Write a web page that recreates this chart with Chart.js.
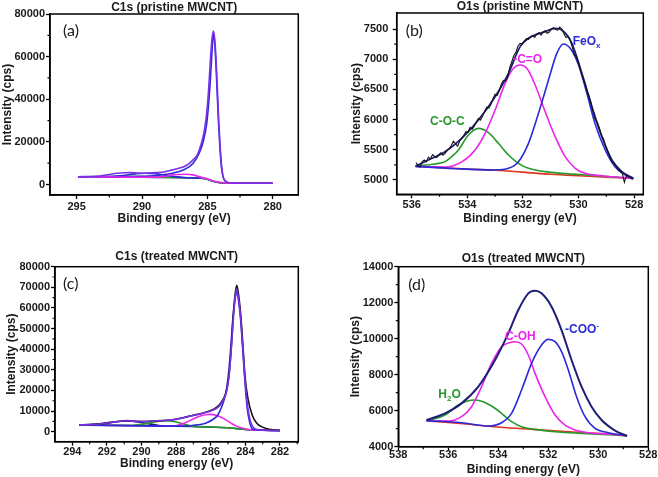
<!DOCTYPE html>
<html>
<head>
<meta charset="utf-8">
<script src="https://cdn.jsdelivr.net/npm/chart.js@4.4.1/dist/chart.umd.min.js"></script>
<style>
  html, body { margin: 0; padding: 0; background: #fff; }
  #wrap { position: relative; width: 658px; height: 477px; }
  canvas { position: absolute; }
</style>
</head>
<body>
<div id="wrap">
  <canvas id="pa" width="329" height="230" style="left:0;top:0"></canvas>
  <canvas id="pb" width="329" height="230" style="left:329px;top:0"></canvas>
  <canvas id="pc" width="329" height="247" style="left:0;top:230px"></canvas>
  <canvas id="pd" width="329" height="247" style="left:329px;top:230px"></canvas>
</div>
<script>
// ---- (a) C1s pristine ----
const aXTicks = [295, 290, 285, 280];
const aXMinor = [292.5, 287.5, 282.5];
const aYTicks = [0, 20000, 40000, 60000, 80000];
const aYMinor = [10000, 30000, 50000, 70000];

const aBgE = [294.9, 294, 293, 292, 291, 290, 289, 288, 287, 286, 285.5, 285.1, 284.8, 284.5, 284.2, 283.9, 283.6, 283, 282, 281, 280];
const aBgI = [3650, 3600, 3540, 3480, 3420, 3370, 3320, 3270, 3200, 3080, 2950, 2600, 2050, 1450, 980, 700, 600, 570, 560, 555, 550];
const aEnvE = [294.9, 294, 293.2, 292.5, 291.9, 291.4, 290.9, 290.4, 289.9, 289.4, 288.9, 288.3, 287.9, 287.3, 286.8, 286.4, 286.1, 285.8, 285.6, 285.4, 285.2, 285.05, 284.92, 284.8, 284.68, 284.55, 284.43, 284.32, 284.22, 284.12, 284.02, 283.92, 283.8, 283.6, 283.3, 283, 282, 281, 280];
const aEnvI = [3650, 3750, 3990, 4700, 5240, 5500, 5550, 5400, 5250, 5400, 5550, 5900, 6490, 7400, 8370, 9800, 11500, 13500, 16500, 20500, 26500, 33500, 43000, 55000, 66000, 72000, 68000, 57000, 43000, 29000, 18000, 9500, 3800, 1500, 800, 620, 560, 555, 550];
const aMainE = [294.9, 293, 291, 289.9, 288.9, 287.9, 286.8, 286.1, 285.6, 285.3, 285.05, 284.9, 284.75, 284.63, 284.55, 284.45, 284.34, 284.24, 284.14, 284.04, 283.94, 283.8, 283.6, 283.3, 283, 282, 280];
const aMainI = [3650, 3600, 3650, 3850, 4200, 5000, 6900, 9800, 15000, 20500, 28500, 38000, 51000, 64000, 70500, 67000, 56000, 42000, 28500, 17500, 9200, 3700, 1450, 780, 610, 560, 550];
const aMagE = [294.9, 292, 290, 289, 288.3, 287.9, 287.2, 286.6, 286.1, 285.8, 285.4, 285.05, 284.7, 284.3, 283.9, 283.5, 283, 282, 280];
const aMagI = [3650, 3500, 3400, 3450, 3700, 4300, 4700, 4800, 4500, 4000, 3300, 2750, 1900, 1250, 900, 750, 620, 560, 550];
const aGrnE = [294.9, 293, 292, 291.3, 290.5, 289.5, 288.5, 287.5, 286.5, 285.5, 285, 284.5, 284, 283.5, 282, 280];
const aGrnI = [3650, 3700, 3800, 3900, 3850, 3650, 3450, 3300, 3150, 2900, 2450, 1500, 800, 600, 560, 550];
const aBluE = [294.9, 292.5, 291.5, 290.5, 289.8, 289, 288.3, 287.5, 286.8, 286, 285.5];
const aBluI = [3650, 3700, 4200, 5000, 5300, 5100, 4400, 3700, 3300, 3050, 2950];

// ---- (b) O1s pristine ----
const bXTicks = [536, 534, 532, 530, 528];
const bXMinor = [535, 533, 531, 529];
const bYTicks = [5000, 5500, 6000, 6500, 7000, 7500];
const bYMinor = [5250, 5750, 6250, 6750, 7250];

const bDataE = [535.85, 535.775, 535.70, 535.625, 535.55, 535.475, 535.40, 535.325, 535.25, 535.175, 535.10, 535.025, 534.95, 534.875, 534.80, 534.725, 534.65, 534.575, 534.50, 534.425, 534.35, 534.275, 534.20, 534.125, 534.05, 533.975, 533.90, 533.825, 533.75, 533.675, 533.60, 533.525, 533.45, 533.375, 533.30, 533.225, 533.15, 533.075, 533.00, 532.925, 532.85, 532.775, 532.70, 532.625, 532.55, 532.475, 532.40, 532.325, 532.25, 532.175, 532.10, 532.025, 531.95, 531.875, 531.80, 531.725, 531.65, 531.575, 531.50, 531.425, 531.35, 531.275, 531.20, 531.125, 531.05, 530.975, 530.90, 530.825, 530.75, 530.675, 530.60, 530.525, 530.45, 530.375, 530.30, 530.225, 530.15, 530.075, 530.00, 529.925, 529.85, 529.775, 529.70, 529.625, 529.55, 529.475, 529.40, 529.325, 529.25, 529.175, 529.10, 529.025, 528.95, 528.875, 528.80, 528.725, 528.65, 528.575, 528.50, 528.425, 528.35, 528.275, 528.20, 528.125, 528.05];
const bDataI = [5290, 5240, 5215, 5300, 5330, 5300, 5380, 5350, 5420, 5390, 5370, 5420, 5450, 5410, 5440, 5490, 5520, 5570, 5640, 5600, 5560, 5640, 5700, 5740, 5800, 5790, 5870, 5840, 5890, 5960, 6020, 5990, 6060, 6140, 6210, 6190, 6250, 6350, 6420, 6400, 6480, 6590, 6650, 6640, 6700, 6860, 6960, 7060, 7120, 7220, 7260, 7250, 7300, 7340, 7330, 7370, 7390, 7360, 7420, 7440, 7400, 7450, 7470, 7430, 7450, 7500, 7520, 7490, 7480, 7530, 7500, 7420, 7360, 7380, 7320, 7200, 7080, 7040, 6950, 6810, 6700, 6610, 6480, 6400, 6280, 6120, 6000, 5950, 5860, 5740, 5680, 5560, 5470, 5390, 5300, 5280, 5230, 5170, 5140, 5110, 4960, 5080, 5060, 5030, 5010];
const bEnvE = [535.86, 535.4, 534.8, 534.2, 533.6, 533.0, 532.52, 532.1, 531.8, 531.2, 530.84, 530.6, 530.24, 529.88, 529.52, 529.16, 528.8, 528.44, 528.03];
const bEnvI = [5232, 5331, 5469, 5690, 5993, 6380, 6766, 7208, 7346, 7456, 7511, 7484, 7263, 6766, 6214, 5717, 5331, 5138, 5028];
const bBgE = [535.86, 535.0, 534.0, 533.0, 532.0, 531.0, 530.0, 529.0, 528.03];
const bBgI = [5232, 5205, 5180, 5160, 5130, 5095, 5070, 5048, 5025];
const bGrnE = [535.86, 535.16, 534.8, 534.56, 534.32, 533.96, 533.6, 533.24, 532.88, 532.52, 532.16, 531.8, 531.2, 530.6, 529.4, 528.03];
const bGrnI = [5232, 5265, 5304, 5386, 5497, 5745, 5855, 5784, 5607, 5414, 5276, 5193, 5138, 5110, 5072, 5025];
const bMagE = [535.86, 534.8, 534.2, 533.72, 533.36, 533.0, 532.64, 532.34, 532.1, 531.86, 531.56, 531.2, 530.84, 530.48, 530.12, 529.77, 529.17, 528.03];
const bMagI = [5225, 5215, 5300, 5497, 5773, 6159, 6600, 6849, 6904, 6849, 6573, 6131, 5717, 5386, 5193, 5110, 5070, 5025];
const bBluE = [535.86, 534.5, 533.0, 532.52, 532.16, 531.8, 531.44, 531.08, 530.78, 530.54, 530.3, 530.0, 529.7, 529.41, 529.04, 528.69, 528.32, 528.03];
const bBluI = [5225, 5190, 5166, 5193, 5304, 5607, 6104, 6656, 7097, 7252, 7180, 6904, 6435, 5938, 5497, 5221, 5083, 5025];

// ---- (c) C1s treated ----
const cXTicks = [294, 292, 290, 288, 286, 284, 282];
const cXMinor = [293, 291, 289, 287, 285, 283, 281];
const cYTicks = [0, 10000, 20000, 30000, 40000, 50000, 60000, 70000, 80000];
const cYMinor = [5000, 15000, 25000, 35000, 45000, 55000, 65000, 75000];

const cBgE = [293.6, 292, 290, 288, 287, 286, 285, 284.5, 284, 283.5, 283, 282.5, 282];
const cBgI = [3250, 3050, 2850, 2650, 2500, 2300, 1900, 1500, 1100, 850, 700, 620, 550];
const cDatE = [293.6, 293, 292.4, 291.8, 291.2, 290.8, 290.3, 289.8, 289.2, 288.6, 288.2, 287.6, 287.0, 286.6, 286.2, 285.8, 285.5, 285.3, 285.1, 284.95, 284.82, 284.7, 284.6, 284.5, 284.4, 284.27, 284.15, 284.02, 283.85, 283.6, 283.35, 283.1, 282.8, 282.4, 282.0];
const cDatI = [3250, 3500, 3800, 4400, 5100, 5350, 5000, 4950, 5200, 5500, 5800, 6800, 8000, 8700, 9700, 11000, 13000, 15500, 19500, 27000, 40000, 56000, 66000, 71000, 67000, 57000, 43000, 27000, 16000, 8000, 4200, 2600, 1600, 900, 550];
const cEnvE = [293.6, 293, 292.4, 291.8, 291.2, 290.8, 290.3, 289.8, 289.2, 288.6, 288.2, 287.6, 287.0, 286.6, 286.2, 285.8, 285.5, 285.3, 285.1, 284.95, 284.82, 284.7, 284.6, 284.5, 284.4, 284.27, 284.15, 284.02, 283.88, 283.72, 283.55, 283.3, 283.0, 282.5, 282.0];
const cEnvI = [3250, 3480, 3750, 4350, 5050, 5300, 4950, 4900, 5150, 5450, 5750, 6700, 7900, 8600, 9500, 10700, 12500, 15000, 19000, 26500, 39000, 54000, 64500, 69000, 65000, 55000, 41000, 25000, 13000, 5500, 2200, 1000, 750, 650, 550];
const cMainE = [293.6, 290, 288.0, 287.5, 287.0, 286.6, 286.2, 285.9, 285.6, 285.35, 285.15, 285.0, 284.85, 284.72, 284.6, 284.5, 284.4, 284.28, 284.15, 284.02, 283.9, 283.75, 283.6, 283.3, 283.0, 282.5, 282.0];
const cMainI = [3250, 2850, 2700, 2750, 3100, 3500, 4500, 5800, 8000, 12500, 18000, 26000, 40000, 55000, 64000, 67900, 64000, 55000, 40000, 24000, 12000, 4500, 1500, 900, 750, 650, 550];
const cMagE = [293.6, 290, 289, 288.2, 287.8, 287.4, 287.0, 286.6, 286.2, 286.0, 285.7, 285.4, 285.1, 284.8, 284.5, 284.2, 283.9, 283.5, 283.0, 282.5, 282.0];
const cMagI = [3250, 2850, 2750, 2800, 3400, 4600, 6200, 7600, 8300, 8400, 8000, 7000, 5600, 4000, 2700, 1800, 1200, 850, 700, 620, 550];
const cGrnE = [293.6, 292, 290.5, 289.8, 289.2, 288.7, 288.2, 287.8, 287.4, 287.0, 286.5, 286, 285, 284, 283, 282];
const cGrnI = [3250, 3100, 3150, 3800, 4700, 5300, 5100, 4300, 3300, 2600, 2400, 2300, 1900, 1100, 700, 550];
const cNavE = [293.6, 292.6, 291.8, 291.2, 290.8, 290.3, 289.7, 289.0, 288.5, 288.0];
const cNavI = [3250, 3600, 4500, 5100, 5200, 4900, 4000, 3000, 2750, 2650];

// ---- (d) O1s treated ----
const dXTicks = [538, 536, 534, 532, 530, 528];
const dXMinor = [537, 535, 533, 531, 529];
const dYTicks = [4000, 6000, 8000, 10000, 12000, 14000];
const dYMinor = [5000, 7000, 9000, 11000, 13000];

const dEnvE = [536.87, 536.13, 535.47, 534.8, 534.13, 533.6, 533.2, 532.8, 532.53, 532.27, 531.87, 531.47, 531.07, 530.67, 530.27, 529.87, 529.47, 529.2, 528.85];
const dEnvI = [5482, 5852, 6408, 7334, 8815, 10297, 11593, 12519, 12667, 12519, 11778, 10482, 8815, 7334, 6222, 5482, 5019, 4800, 4600];
const dMagE = [536.87, 536.0, 535.47, 535.07, 534.67, 534.27, 533.87, 533.53, 533.33, 533.07, 532.8, 532.53, 532.13, 531.73, 531.33, 530.93, 530.4, 529.6, 528.85];
const dMagI = [5445, 5420, 5667, 6222, 7334, 8630, 9556, 9790, 9833, 9704, 9093, 8074, 6778, 5759, 5204, 4926, 4778, 4704, 4610];
const dBluE = [536.87, 535.47, 534.4, 533.87, 533.47, 533.07, 532.67, 532.27, 532.0, 531.73, 531.47, 531.2, 530.87, 530.53, 530.13, 529.6, 528.85];
const dBluI = [5445, 5334, 5150, 5330, 5852, 7148, 8630, 9649, 9963, 9833, 9278, 8260, 6778, 5667, 5019, 4778, 4610];
const dGrnE = [536.87, 536.13, 535.6, 535.2, 534.93, 534.6, 534.27, 533.87, 533.47, 533.07, 532.53, 531.73, 530.67, 529.6, 528.85];
const dGrnI = [5445, 5759, 6315, 6556, 6593, 6500, 6259, 5852, 5389, 5111, 4963, 4833, 4741, 4667, 4610];
const dBgE = [536.87, 535.5, 534.5, 533.5, 532.5, 531.5, 530.5, 529.5, 528.85];
const dBgI = [5445, 5290, 5150, 5040, 4950, 4860, 4770, 4690, 4610];

const FONT = "'Liberation Sans', Arial, sans-serif";
const NAVY = "#1e1e78", BLACK = "#141414", BLUE = "#2a2ad8", MAGENTA = "#ec24ec",
      GREEN = "#27992a", RED = "#e2341f", VIOLET = "#7b30e6";

function line(e, i, color, width, straight) {
  return {
    data: e.map((v, k) => ({ x: v, y: i[k] })),
    borderColor: color,
    borderWidth: width || 1.6,
    pointRadius: 0,
    fill: false,
    tension: straight ? 0 : 0.4,
    cubicInterpolationMode: straight ? "default" : "monotone",
  };
}

function decor(p) {
  return {
    id: "decor",
    afterDraw(chart) {
      const { ctx, chartArea: a, scales: { x, y } } = chart;
      ctx.save();
      ctx.strokeStyle = "#000";
      ctx.lineWidth = 1.5;
      ctx.strokeRect(a.left, a.top, a.right - a.left, a.bottom - a.top);
      ctx.lineWidth = 1.2;
      ctx.beginPath();
      p.xMinor.forEach((v) => {
        const px = x.getPixelForValue(v);
        ctx.moveTo(px, a.bottom);
        ctx.lineTo(px, a.bottom + 2.5);
      });
      p.yMinor.forEach((v) => {
        const py = y.getPixelForValue(v);
        ctx.moveTo(a.left, py);
        ctx.lineTo(a.left - 2.5, py);
      });
      ctx.stroke();

      ctx.fillStyle = "#1a1a1a";
      ctx.textBaseline = "middle";
      ctx.textAlign = "center";
      ctx.font = "bold 12px " + FONT;
      ctx.fillText(p.title, (a.left + a.right) / 2, a.top - p.titleGap);

      ctx.textAlign = "left";
      ctx.font = "16px Lato, sans-serif";
      ctx.fillText(p.tag, a.left + p.tagX, a.top + p.tagY);

      p.notes.forEach((n) => {
        let px = x.getPixelForValue(n.e);
        const py = y.getPixelForValue(n.i);
        ctx.fillStyle = n.color;
        n.parts.forEach((part) => {
          const small = part.sub || part.sup;
          ctx.font = "bold " + (small ? 8 : 12) + "px " + FONT;
          const dy = part.sub ? 3.5 : part.sup ? -4 : 0;
          ctx.fillText(part.t, px, py + dy);
          px += ctx.measureText(part.t).width;
        });
      });
      ctx.restore();
    },
  };
}

function panel(id, p) {
  const el = document.getElementById(id);
  const W = el.width, H = el.height;
  const tickFont = { family: FONT, size: 11, weight: "bold" };
  const titleFont = { family: FONT, size: 12, weight: "bold" };
  return new Chart(el, {
    type: "line",
    data: { datasets: p.series },
    options: {
      responsive: false,
      animation: false,
      layout: { padding: { left: 0, top: p.area.top, right: W - p.area.right, bottom: 0 } },
      plugins: { legend: { display: false }, tooltip: { enabled: false } },
      scales: {
        x: {
          type: "linear",
          reverse: true,
          min: p.x.min,
          max: p.x.max,
          afterBuildTicks: (s) => { s.ticks = p.x.ticks.map((v) => ({ value: v })); },
          afterFit: (s) => { s.height = H - p.area.bottom; s.paddingLeft = 0; s.paddingRight = 0; },
          ticks: { font: tickFont, color: "#1a1a1a", padding: p.x.pad, autoSkip: false, maxRotation: 0, callback: (v) => String(v) },
          grid: { display: true, drawOnChartArea: false, drawTicks: true, tickLength: 4, tickColor: "#000", tickWidth: 1.3 },
          border: { display: true, color: "#000", width: 1.5 },
          title: { display: true, text: "Binding energy (eV)", font: titleFont, color: "#1a1a1a", padding: { top: 0, bottom: p.x.titlePad } },
        },
        y: {
          type: "linear",
          min: p.y.min,
          max: p.y.max,
          afterBuildTicks: (s) => { s.ticks = p.y.ticks.map((v) => ({ value: v })); },
          afterFit: (s) => { s.width = p.area.left; s.paddingTop = 0; s.paddingBottom = 0; },
          ticks: { font: tickFont, color: "#1a1a1a", padding: p.y.pad, autoSkip: false, callback: (v) => String(v) },
          grid: { display: true, drawOnChartArea: false, drawTicks: true, tickLength: 4, tickColor: "#000", tickWidth: 1.3 },
          border: { display: true, color: "#000", width: 1.5 },
          title: { display: true, text: "Intensity (cps)", font: titleFont, color: "#1a1a1a", padding: { top: p.y.titlePad, bottom: 0 } },
        },
      },
    },
    plugins: [decor(p)],
  });
}

panel("pa", {
  area: { left: 50, top: 14, right: 298.3, bottom: 195 },
  x: { min: 278.04, max: 297.04, ticks: aXTicks, pad: 1, titlePad: 4.5 },
  y: { min: -4930, max: 80000, ticks: aYTicks, pad: 1, titlePad: 0 },
  xMinor: aXMinor, yMinor: aYMinor,
  title: "C1s (pristine MWCNT)", titleGap: 6.5,
  tag: "(a)", tagX: 13, tagY: 17,
  notes: [],
  series: [
    line(aEnvE, aEnvI, VIOLET),
    line(aMagE, aMagI, MAGENTA),
    line(aMainE, aMainI, BLUE),
    line(aBluE, aBluI, BLUE),
    line(aGrnE, aGrnI, GREEN),
    line(aBgE, aBgI, NAVY),
  ],
});

panel("pb", {
  area: { left: 67.7, top: 13, right: 314.3, bottom: 194.3 },
  x: { min: 527.67, max: 536.54, ticks: bXTicks, pad: 0, titlePad: 4.5 },
  y: { min: 4763, max: 7765, ticks: bYTicks, pad: 4.4, titlePad: 20 },
  xMinor: bXMinor, yMinor: bYMinor,
  title: "O1s (pristine MWCNT)", titleGap: 6,
  tag: "(b)", tagX: 9, tagY: 18,
  notes: [
    { e: 532.35, i: 7000, color: MAGENTA, parts: [{ t: "-C=O" }] },
    { e: 530.21, i: 7285, color: BLUE, parts: [{ t: "FeO" }, { t: "x", sub: true }] },
    { e: 535.34, i: 5961, color: GREEN, parts: [{ t: "C-O-C" }] },
  ],
  series: [
    line(bDataE, bDataI, BLACK, 1.1, true),
    line(bEnvE, bEnvI, NAVY, 1.8),
    line(bBluE, bBluI, BLUE),
    line(bMagE, bMagI, MAGENTA),
    line(bGrnE, bGrnI, GREEN),
    line(bBgE, bBgI, RED),
  ],
});

panel("pc", {
  area: { left: 55, top: 36.7, right: 298.3, bottom: 211.7 },
  x: { min: 280.94, max: 295.0, ticks: cXTicks, pad: 0, titlePad: 6.5 },
  y: { min: -4850, max: 80000, ticks: cYTicks, pad: 1, titlePad: 4.5 },
  xMinor: cXMinor, yMinor: cYMinor,
  title: "C1s (treated MWCNT)", titleGap: 10,
  tag: "(c)", tagX: 8, tagY: 17,
  notes: [],
  series: [
    line(cEnvE, cEnvI, VIOLET),
    line(cDatE, cDatI, BLACK),
    line(cMainE, cMainI, BLUE),
    line(cMagE, cMagI, MAGENTA),
    line(cGrnE, cGrnI, GREEN),
    line(cNavE, cNavI, NAVY),
    line(cBgE, cBgI, NAVY),
  ],
});

panel("pd", {
  area: { left: 69.3, top: 36.7, right: 319.3, bottom: 216.7 },
  x: { min: 528, max: 538, ticks: dXTicks, pad: -2, titlePad: 0 },
  y: { min: 4000, max: 14000, ticks: dYTicks, pad: 1, titlePad: 19 },
  xMinor: dXMinor, yMinor: dYMinor,
  title: "O1s (treated MWCNT)", titleGap: 8.4,
  tag: "(d)", tagX: 10, tagY: 18,
  notes: [
    { e: 536.4, i: 6872, color: GREEN, parts: [{ t: "H" }, { t: "2", sub: true }, { t: "O" }] },
    { e: 533.73, i: 10111, color: MAGENTA, parts: [{ t: "C-OH" }] },
    { e: 531.33, i: 10483, color: BLUE, parts: [{ t: "-COO" }, { t: "-", sup: true }] },
  ],
  series: [
    line(dEnvE, dEnvI, NAVY, 2),
    line(dBluE, dBluI, BLUE),
    line(dMagE, dMagI, MAGENTA),
    line(dGrnE, dGrnI, GREEN),
    line(dBgE, dBgI, RED),
  ],
});
</script>
</body>
</html>
